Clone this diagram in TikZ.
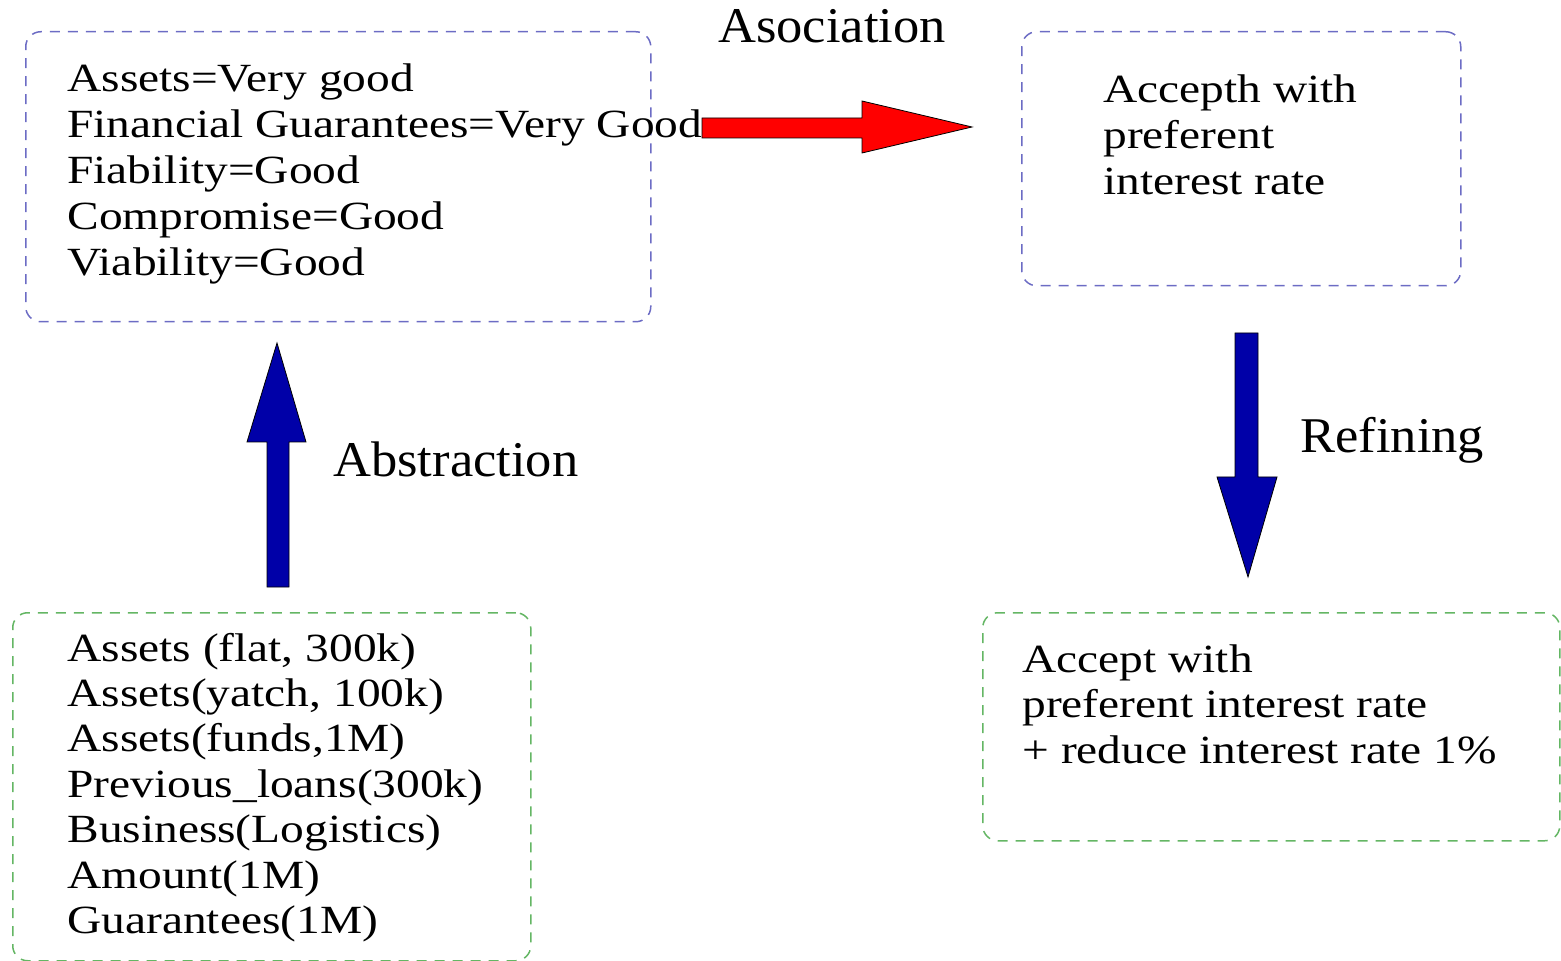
\documentclass[tikz,border=0pt]{standalone}
\usepackage{fontspec}
\setmainfont{Liberation Serif}
\newfontfamily\boxfont{Liberation Serif}[FakeStretch=1.185]
\newfontfamily\labelfont{Liberation Serif}[FakeStretch=1.05]
\usetikzlibrary{calc}

\definecolor{frameblue}{RGB}{108,108,196}
\definecolor{framegreen}{RGB}{100,182,100}
\definecolor{arrowblue}{RGB}{0,0,168}
\definecolor{arrowred}{RGB}{255,0,0}

\begin{document}
\begin{tikzpicture}[x=0.5pt,y=-0.5pt,
  frame/.style={draw, dash pattern=on 5pt off 4pt, line width=0.75pt,
    rounded corners=7.5pt, inner sep=0pt, anchor=north west},
  blueframe/.style={frame, draw=frameblue},
  greenframe/.style={frame, draw=framegreen},
  boxtext/.style={anchor=base west, inner sep=0pt,
    font=\boxfont\fontsize{20}{23}\selectfont},
  tag/.style={anchor=base west, inner sep=0pt,
    font=\labelfont\fontsize{25}{30}\selectfont},
  blockarrow/.style={draw=black, line width=0.4pt, line join=miter}]

\useasboundingbox (0,0) rectangle (1561,961);

% dashed frames
\node[blueframe, minimum width=312.5pt, minimum height=145pt] (facts) at (25,31) {};
\node[blueframe, minimum width=219.5pt, minimum height=127pt] (decision) at (1021,31) {};
\node[greenframe, minimum width=259pt, minimum height=174pt] (data) at (12,612) {};
\node[greenframe, minimum width=288.5pt, minimum height=114pt] (refined) at (982,612) {};

% frame contents
\node[boxtext] (factsText) at (67,92) {\begin{tabular}[t]{@{}l@{}}
Assets=Very good\\
Financial Guarantees=Very Good\\
Fiability=Good\\
Compromise=Good\\
Viability=Good
\end{tabular}};

\node[boxtext] (decisionText) at (1103,103) {\begin{tabular}[t]{@{}l@{}}
Accepth with\\
preferent\\
interest rate
\end{tabular}};

\node[boxtext, font=\boxfont\fontsize{20}{22.7}\selectfont] (dataText) at (67,661) {\begin{tabular}[t]{@{}l@{}}
Assets (flat, 300k)\\
Assets(yatch, 100k)\\
Assets(funds,1M)\\
Previous\_loans(300k)\\
Business(Logistics)\\
Amount(1M)\\
Guarantees(1M)
\end{tabular}};

\node[boxtext, font=\boxfont\fontsize{20}{22.8}\selectfont] (refinedText) at (1022,672) {\begin{tabular}[t]{@{}l@{}}
Accept with\\
preferent interest rate\\
+ reduce interest rate 1\%
\end{tabular}};

% block arrows
\coordinate (assocTail) at (702,128);
\coordinate (assocTip) at (972,127);
\filldraw[blockarrow, fill=arrowred]
  ($(assocTail)+(0,-10)$) -- ++(160,0) -- ++(0,-17) -- (assocTip)
  -- ($(assocTail)+(160,25)$) -- ++(0,-15) -- ($(assocTail)+(0,10)$) -- cycle;

\coordinate (abstrTail) at (278,587);
\coordinate (abstrTip) at (277,343);
\filldraw[blockarrow, fill=arrowblue]
  ($(abstrTail)+(-11,0)$) -- ++(0,-145) -- ++(-20,0) -- (abstrTip)
  -- ($(abstrTail)+(28,-145)$) -- ++(-17,0) -- ($(abstrTail)+(11,0)$) -- cycle;

\coordinate (refTail) at (1246.5,333);
\coordinate (refTip) at (1248,577);
\filldraw[blockarrow, fill=arrowblue]
  ($(refTail)+(-11.5,0)$) -- ++(0,144) -- ++(-18,0) -- (refTip)
  -- ($(refTail)+(30.5,144)$) -- ++(-19,0) -- ($(refTail)+(11.5,0)$) -- cycle;

% arrow labels
\node[tag] (assocLabel) at (718,43) {Asociation};
\node[tag] (abstrLabel) at (333,477) {Abstraction};
\node[tag] (refLabel) at (1300,453) {Refining};

\end{tikzpicture}
\end{document}
